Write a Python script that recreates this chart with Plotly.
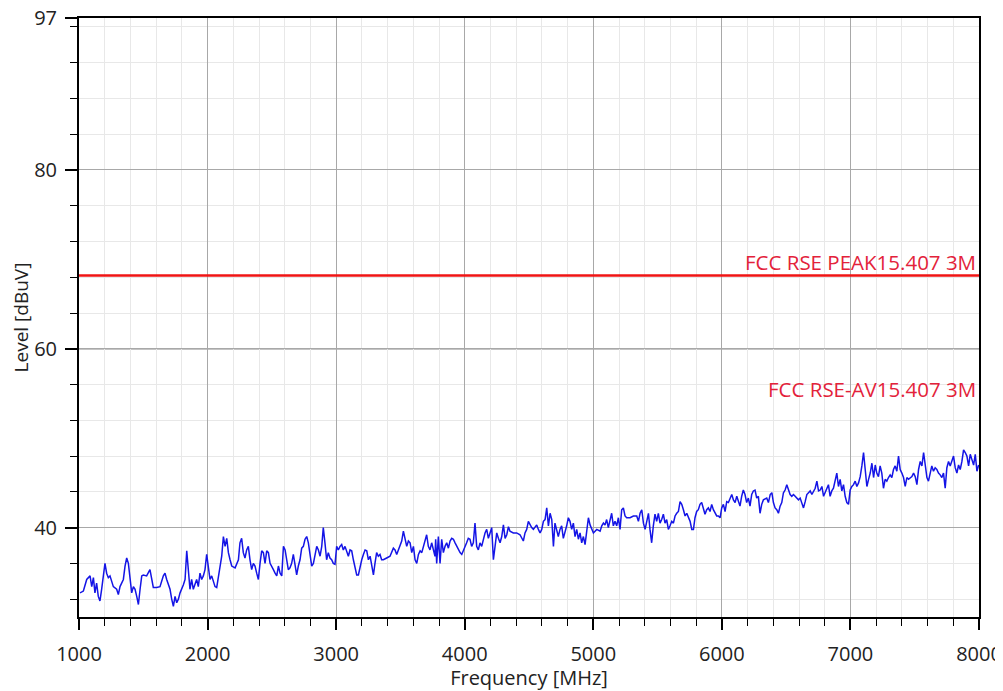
import plotly.graph_objects as go

# ---------------- data ----------------
freq_a = [1008,1034,1060,1086,1099,1112,1124,1137,1150,1163,
          1176,1202,1215,1228,1241,1267,1293,1306,1319,1345,
          1358,1371,1384,1397,1410,1423,1436,1449,1462,1475,
          1488,1500,1526,1552,1565,1578,1604,1630,1656,1669,
          1682,1708,1721,1734,1747,1760,1773,1786,1812,1825,
          1838,1851,1863,1876,1889,1915,1928,1941,1954,1967,
          1980,1993,2006,2019,2032,2058,2071,2097,2110,2123,
          2136,2149,2162,2175,2188,2214,2240,2252,2265,2278,
          2291,2304,2317,2330,2343,2356,2369,2382,2395,2408,
          2421,2434,2447,2460,2473,2486,2499,2512,2525,2538,
          2551,2564,2577,2590,2603,2616,2628,2641,2654,2667,
          2680,2693,2706,2719,2732,2745,2758,2771,2784]
level_a = [32.7,32.9,34.2,34.6,33.4,34.4,32.7,33.8,32.3,31.8,
           33.1,36.0,34.9,34.4,34.6,33.4,33.1,32.5,33.4,34.2,
           35.7,36.6,36.0,34.2,32.7,33.4,33.1,32.3,31.4,33.1,
           34.6,34.7,34.6,35.3,34.2,33.3,33.3,33.4,34.6,34.9,
           34.2,33.1,32.0,31.2,32.3,31.6,32.0,32.7,33.6,34.2,
           37.4,35.3,33.1,34.2,33.1,34.2,33.4,34.9,34.2,34.6,
           35.3,37.0,35.7,34.2,34.6,33.4,33.3,35.7,36.8,39.0,
           37.9,38.8,37.2,36.4,35.7,35.5,36.4,38.3,38.8,37.2,
           36.6,37.5,37.9,36.4,35.3,36.0,35.7,34.9,34.2,36.0,
           37.4,37.2,36.0,37.4,37.2,36.0,35.7,35.3,34.9,34.6,
           35.7,34.9,34.6,37.9,37.5,36.4,35.3,35.5,36.0,37.0,
           36.0,34.7,35.7,36.4,37.7,37.9,38.7,39.0,38.3]

freq_b = [2797,2810,2823,2836,2849,2862,2875,2888,2900,2913,
          2926,2939,2952,2965,2978,2991,3004,3017,3030,3043,
          3056,3069,3082,3095,3108,3121,3134,3147,3160,3173,
          3186,3199,3212,3225,3238,3251,3264,3277,3290,3302,
          3315,3328,3341,3354,3367,3393,3419,3445,3458,3471,
          3484,3510,3523,3536,3549,3562,3575,3588,3601,3614,
          3627,3640,3653,3666,3679,3692,3704,3717,3730,3743,
          3756,3769,3774,3782,3795,3808,3821,3834,3847,3860,
          3873,3886,3899,3912,3925,3938,3951,3964,3977,3990,
          4003,4015,4028,4041,4054,4067,4080,4093,4106,4119,
          4132,4145,4158,4171,4184,4197,4210,4223,4236,4249,
          4262,4275,4288,4301,4314,4327,4340,4352,4378,4404,
          4430,4443,4456,4469,4482,4495,4508,4521,4534,4560,
          4573]
level_b = [36.8,35.7,36.0,37.2,37.9,37.5,36.8,37.9,40.0,38.3,
           36.4,37.2,36.6,36.4,36.0,35.9,37.9,37.5,37.9,38.1,
           37.5,37.9,37.2,36.8,37.5,37.4,36.4,35.3,34.7,34.7,
           35.7,36.4,37.0,37.5,37.4,36.4,36.8,35.7,34.7,36.0,
           37.2,36.8,37.0,36.4,36.4,36.6,36.8,37.7,37.5,37.0,
           37.5,38.5,39.6,38.7,37.9,38.5,38.3,37.2,37.9,36.4,
           36.0,37.0,37.4,37.2,37.9,38.8,39.2,37.9,37.5,38.3,
           37.4,36.8,38.7,36.0,39.0,36.0,38.7,37.2,37.9,38.3,
           37.7,38.5,38.8,38.7,38.3,37.9,37.5,37.2,37.0,37.4,
           37.9,38.3,38.8,38.7,37.9,38.3,40.5,37.9,37.5,38.3,
           37.9,38.7,39.4,39.8,38.8,39.4,40.0,36.4,38.3,39.4,
           38.8,38.3,39.0,40.3,38.8,39.2,40.1,39.6,39.4,39.4,
           39.2,38.8,38.5,39.4,39.8,40.7,40.3,40.0,39.8,40.3,
           39.8]

freq_c = [4586,4599,4612,4625,4638,4651,4664,4677,4690,4702,
          4715,4728,4741,4754,4767,4780,4793,4806,4819,4832,
          4845,4858,4871,4884,4897,4910,4923,4936,4949,4962,
          4975,4988,5001,5027,5053,5066,5079,5091,5104,5117,
          5130,5143,5156,5169,5182,5195,5208,5221,5234,5247,
          5260,5286,5312,5338,5351,5364,5377,5390,5403,5416,
          5429,5441,5454,5467,5480,5493,5506,5519,5532,5545,
          5558,5571,5584,5597,5610,5623,5636,5649,5662,5675,
          5688,5701,5714,5727,5740,5753,5766,5779,5791,5804,
          5817,5830,5843,5856,5869,5882,5895,5908,5921,5934,
          5947,5960,5973,5986,5999,6012,6025,6038,6051,6064,
          6077,6090,6103,6116,6129,6141,6154,6167,6180,6193,
          6206,6219,6232,6245,6258,6271,6284,6297,6310,6323,
          6349,6362]
level_c = [39.4,39.8,40.7,40.9,42.2,40.2,41.6,40.9,37.9,40.5,
           39.8,39.0,39.8,40.2,38.8,39.4,40.2,41.1,40.7,39.8,
           40.5,39.0,39.8,38.7,39.4,38.3,39.0,38.1,39.8,41.1,
           40.3,39.8,39.4,39.8,39.6,40.2,40.5,40.3,40.9,40.0,
           40.7,41.6,40.2,40.7,40.2,41.1,39.8,42.0,42.2,41.3,
           41.1,41.1,41.3,41.3,40.7,41.6,42.0,40.5,39.8,40.9,
           41.6,39.8,38.3,40.2,41.5,40.7,41.6,40.5,40.9,41.5,
           40.5,40.9,39.8,40.2,40.7,40.5,41.3,41.6,41.8,42.9,
           42.6,42.0,41.3,41.6,41.1,40.7,39.8,39.8,41.1,41.8,
           42.0,42.6,42.8,42.0,41.5,42.0,42.2,41.8,42.6,42.0,
           41.6,41.3,41.3,41.1,42.2,42.6,41.8,42.9,42.8,43.3,
           43.7,43.1,42.8,43.5,42.9,42.4,43.5,44.2,43.7,42.8,
           43.3,42.4,43.7,44.1,44.2,43.3,43.5,41.6,42.6,43.1,
           43.3,42.8]

freq_d = [6376,6389,6401,6414,6427,6440,6453,6466,6479,6492,
          6505,6518,6531,6544,6557,6570,6583,6596,6609,6622,
          6635,6648,6661,6674,6687,6700,6713,6726,6739,6752,
          6765,6778,6791,6803,6816,6829,6842,6855,6868,6881,
          6894,6907,6920,6933,6946,6959,6972,6985,6998,7011,
          7024,7037,7050,7063,7076,7089,7102,7115,7128,7141,
          7154,7167,7180,7193,7205,7218,7231,7244,7257,7270,
          7283,7296,7309,7322,7335,7348,7361,7374,7387,7400,
          7413,7426,7439,7452,7465,7478,7491,7504,7517,7530,
          7543,7556,7569,7582,7595,7607,7620,7633,7646,7659,
          7672,7685,7698,7711,7724,7737,7750,7763,7776,7789,
          7802,7815,7828,7841,7854,7867,7880,7893,7906,7919,
          7932,7945,7958,7971,7984,7997]
level_d = [43.7,43.9,42.8,42.2,42.0,41.6,42.4,42.8,43.9,44.2,
           44.8,44.1,43.7,43.5,43.7,43.5,43.3,43.1,43.3,42.8,
           42.2,42.9,43.7,43.9,44.1,43.7,44.1,44.4,45.2,44.1,
           44.2,44.6,43.5,43.9,44.2,44.8,43.5,44.1,44.4,45.2,
           46.1,44.6,45.4,44.1,44.8,43.5,42.8,42.6,44.2,44.6,
           44.8,45.2,44.6,45.0,45.7,46.9,48.4,46.5,44.6,45.4,
           46.1,47.2,45.6,47.0,46.1,45.7,46.9,46.1,44.4,45.4,
           45.2,45.6,45.9,45.6,46.5,46.9,46.3,48.0,46.5,46.1,
           45.6,44.6,45.6,45.4,45.6,45.7,46.1,45.7,44.8,46.5,
           47.4,46.9,48.4,46.9,45.6,45.2,46.1,46.9,46.3,46.7,
           46.5,46.1,45.9,45.6,46.1,44.4,46.7,47.4,46.9,47.6,
           48.0,46.7,46.1,47.0,46.5,47.4,48.7,48.4,48.0,46.9,
           48.2,47.6,47.0,48.2,46.3,47.0]

limit_freq = [1000, 8000]
peak_limit = 68.2
avg_limit = 54.0
peak_label = "FCC RSE PEAK15.407 3M"
avg_label = "FCC RSE-AV15.407 3M"

x_ticks = [1000, 2000, 3000, 4000, 5000, 6000, 7000, 8000]
y_ticks = [40, 60, 80, 97]

for f, l in ((freq_a, level_a), (freq_b, level_b), (freq_c, level_c), (freq_d, level_d)):
    assert len(f) == len(l), (len(f), len(l))

freq = freq_a + freq_b + freq_c + freq_d
level = level_a + level_b + level_c + level_d

# ---------------- figure ----------------
FONT = "Open Sans"
TXT = "#222222"
fig = go.Figure()

fig.add_trace(go.Scatter(x=limit_freq, y=[peak_limit] * len(limit_freq), mode="lines",
                         line=dict(color="#f01414", width=2.6), hoverinfo="skip",
                         showlegend=False))
fig.add_trace(go.Scatter(x=freq, y=level, mode="lines",
                         line=dict(color="#1414e6", width=1.5), showlegend=False))

fig.add_shape(type="line", xref="x", yref="y", x0=limit_freq[0], x1=limit_freq[1],
              y0=60, y1=60, line=dict(color="#8a8a8a", width=1.3), layer="below")

fig.add_annotation(x=limit_freq[1], y=peak_limit, xref="x", yref="y", text=peak_label,
                   showarrow=False, xanchor="right", yanchor="bottom", yshift=-3, xshift=-1,
                   font=dict(family=FONT, size=20.5, color="#e3223a"))
fig.add_annotation(x=limit_freq[1], y=avg_limit, xref="x", yref="y", text=avg_label,
                   showarrow=False, xanchor="right", yanchor="bottom", yshift=-3, xshift=-1,
                   font=dict(family=FONT, size=20.5, color="#e3223a"))

fig.update_xaxes(
    range=[1000, 8000], tickmode="array", tickvals=x_ticks, automargin=False,
    ticklabeloverflow="allow",
    ticks="outside", ticklen=11, tickwidth=1.5, tickcolor="black",
    showline=True, linecolor="black", linewidth=2, mirror=True,
    showgrid=True, gridcolor="#a8a8a8", gridwidth=1, zeroline=False,
    minor=dict(tick0=1000, dtick=200, ticks="outside", ticklen=7, tickwidth=1.3,
               tickcolor="black", showgrid=True, gridcolor="#e8e8e8", gridwidth=1),
    tickfont=dict(family=FONT, size=20, color=TXT),
    ticklabelstandoff=7,
    title=dict(text="Frequency [MHz]", font=dict(family=FONT, size=20, color=TXT),
               standoff=2),
)
fig.update_yaxes(
    range=[30, 97], tickmode="array", tickvals=y_ticks, automargin=False,
    ticklabeloverflow="allow",
    ticks="outside", ticklen=12, tickwidth=1.5, tickcolor="black",
    showline=True, linecolor="black", linewidth=2, mirror=True,
    showgrid=True, gridcolor="#a8a8a8", gridwidth=1, zeroline=False,
    minor=dict(tick0=40, dtick=4, ticks="outside", ticklen=7, tickwidth=1.3,
               tickcolor="black", showgrid=True, gridcolor="#e8e8e8", gridwidth=1),
    tickfont=dict(family=FONT, size=20, color=TXT),
    ticklabelstandoff=4,
    title=dict(text="Level [dBuV]", font=dict(family=FONT, size=19, color=TXT),
               standoff=4),
)

# the page adds an 8 px body margin, so the figure is drawn 8 px smaller/offset
fig.update_layout(
    width=995, height=683,
    margin=dict(l=71, r=24, t=10, b=74),
    plot_bgcolor="white", paper_bgcolor="white",
    showlegend=False,
)

fig.write_html("out.html")
